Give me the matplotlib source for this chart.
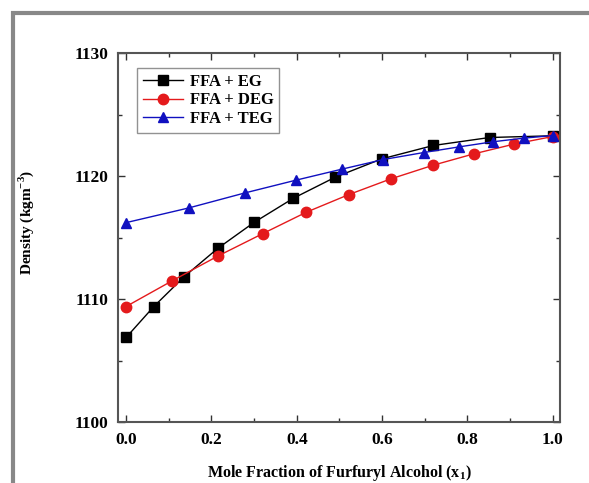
import matplotlib
matplotlib.use("Agg")
import matplotlib.pyplot as plt
from matplotlib.patches import Rectangle
from matplotlib.ticker import MultipleLocator

x_eg = [0.0, 0.065, 0.136, 0.215, 0.300, 0.392, 0.490, 0.599, 0.720, 0.852, 1.0]
y_eg = [1106.87, 1109.39, 1111.81, 1114.12, 1116.23, 1118.19, 1119.90, 1121.39, 1122.48, 1123.13, 1123.27]

x_deg = [0.0, 0.108, 0.215, 0.320, 0.422, 0.522, 0.620, 0.720, 0.815, 0.909, 1.0]
y_deg = [1109.39, 1111.48, 1113.49, 1115.31, 1117.05, 1118.49, 1119.76, 1120.88, 1121.80, 1122.59, 1123.21]

x_teg = [0.0, 0.1465, 0.278, 0.398, 0.505, 0.603, 0.698, 0.781, 0.859, 0.933, 1.0]
y_teg = [1116.21, 1117.40, 1118.62, 1119.66, 1120.55, 1121.34, 1121.91, 1122.37, 1122.78, 1123.08, 1123.29]

labels = ["FFA + EG", "FFA + DEG", "FFA + TEG"]

plt.rcParams['font.family'] = ['Liberation Serif', 'DejaVu Serif']
plt.rcParams['font.weight'] = 'bold'
plt.rcParams['mathtext.fontset'] = 'custom'
plt.rcParams['mathtext.rm'] = 'Liberation Serif:bold'
plt.rcParams['mathtext.bf'] = 'Liberation Serif:bold'

fig = plt.figure(figsize=(5.89, 4.83), dpi=100)
fig.patches.append(Rectangle((13/589, -0.2), 1.5, 1.2 - 13/483,
                             transform=fig.transFigure, fill=False,
                             edgecolor='#888888', linewidth=3.0, zorder=0))

ax = fig.add_axes([118/589, 1 - 422/483, 442/589, 369/483])

ax.plot(x_eg, y_eg, color='black', marker='s', markersize=6.5, linewidth=1.0, label=labels[0])
ax.plot(x_deg, y_deg, color='#e41a1c', marker='o', markersize=7.5, linewidth=1.0, label=labels[1])
ax.plot(x_teg, y_teg, color='#1010c0', marker='^', markersize=7.5, linewidth=1.0, label=labels[2])

ax.set_xlim(-0.019, 1.017)
ax.set_ylim(1100, 1130)
ax.xaxis.set_major_locator(MultipleLocator(0.2))
ax.xaxis.set_minor_locator(MultipleLocator(0.1))
ax.yaxis.set_major_locator(MultipleLocator(10))
ax.yaxis.set_minor_locator(MultipleLocator(5))
ax.xaxis.set_major_formatter(plt.FuncFormatter(lambda v, p: f"{v:.1f}"))

ax.tick_params(which='both', direction='in', top=True, right=True, labelsize=12.5, colors='#333333', labelcolor='black')
ax.tick_params(which='major', length=5, width=1.0, pad=7)
ax.tick_params(which='minor', length=3, width=1.0)
for s in ax.spines.values():
    s.set_linewidth(1.5)
    s.set_color('#555555')

ax.set_ylabel(r"Density (kgm$^{-3}$)", fontsize=11, fontweight='bold')
ax.yaxis.set_label_coords(-0.186, 0.542)
ax.set_xlabel(r"Mole Fraction of Furfuryl Alcohol (x$_{1}$)", fontsize=11.5, fontweight='bold', labelpad=11)

leg = ax.legend(loc='upper left', bbox_to_anchor=(0.043, 0.959), borderaxespad=0, fontsize=12, frameon=True,
                fancybox=False, handlelength=2.4, borderpad=0.35, labelspacing=0.15, handletextpad=0.4)
leg.get_frame().set_edgecolor('#777777')
leg.get_frame().set_linewidth(1.0)

fig.savefig("out.png", dpi=100)
